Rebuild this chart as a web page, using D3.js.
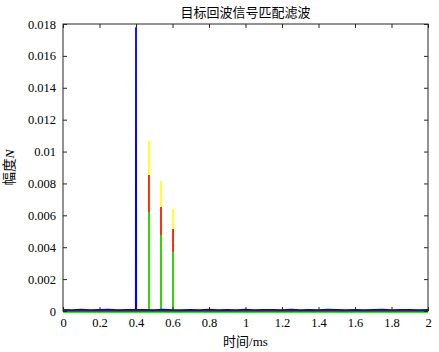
<!DOCTYPE html>
<html>
<head>
<meta charset="utf-8">
<script src="https://cdn.jsdelivr.net/npm/d3@7"></script>
<style>
  body { margin: 0; background: #fff; }
  text { font-family: "Liberation Serif", "Noto Sans CJK SC", serif; }
</style>
</head>
<body>
<div id="app"></div>
<script>
const title = '目标回波信号匹配滤波';
const xLabel = '时间/ms';
const yLabel = '幅度';
const xTicks = [0, 0.2, 0.4, 0.6, 0.8, 1, 1.2, 1.4, 1.6, 1.8, 2];
const yTicks = [0, 0.002, 0.004, 0.006, 0.008, 0.01, 0.012, 0.014, 0.016, 0.018];

// echo pulse times (ms) and peak amplitudes for each filtered series
const pulseTimes = [0.471, 0.537, 0.603];
const yellowPeaks = [0.01066, 0.00815, 0.00642];
const redPeaks = [0.00853, 0.00652, 0.00514];
const greenPeaks = [0.00627, 0.00483, 0.00378];

// blue trace: noise floor plus the direct pulse at 0.4 ms
const blueT = [0, 0.05, 0.1, 0.15, 0.2, 0.25, 0.3, 0.35, 0.399, 0.4, 0.401, 0.45, 0.5, 0.55, 0.6,
  0.65, 0.7, 0.75, 0.8, 0.85, 0.9, 0.95, 1, 1.05, 1.1, 1.15, 1.2, 1.25, 1.3, 1.35, 1.4,
  1.45, 1.5, 1.55, 1.6, 1.65, 1.7, 1.75, 1.8, 1.85, 1.9, 1.95, 2];
const blueV = [0.00007, 0.00005, 0.00008, 0.00006, 0.00007, 0.00009, 0.00006, 0.00007, 0.00008, 0.0178, 0.00008,
  0.00007, 0.00006, 0.00008, 0.00006, 0.00005, 0.00007, 0.00006, 0.00008, 0.00006, 0.00007,
  0.00006, 0.00008, 0.00005, 0.00007, 0.00007, 0.00006, 0.00008, 0.00006, 0.00007, 0.00005,
  0.00008, 0.00007, 0.00006, 0.00007, 0.00006, 0.00007, 0.00008, 0.00006, 0.00007, 0.00007, 0.00006, 0.00007];

const width = 439, height = 352;
const margin = { left: 63, right: 11, top: 24, bottom: 41 };

const svg = d3.select('#app').append('svg')
  .attr('width', width).attr('height', height);

const x = d3.scaleLinear().domain([0, 2]).range([margin.left, width - margin.right]);
const y = d3.scaleLinear().domain([0, 0.018]).range([height - margin.bottom, margin.top]);

const fmt = (d) => String(+d.toFixed(3));

// pulses drawn as vertical strokes from the baseline
function pulseData(peaks) {
  const pts = [[0, 0]];
  pulseTimes.forEach((t, i) => {
    pts.push([t, 0], [t, peaks[i]], [t, 0]);
  });
  pts.push([2, 0]);
  return pts;
}

const line = d3.line().x((d) => x(d[0])).y((d) => y(d[1]));

const plot = svg.append('g');
plot.append('path').datum(pulseData(yellowPeaks))
  .attr('d', line).attr('fill', 'none').attr('stroke', '#ffff00').attr('stroke-width', 1.6);
plot.append('path').datum(pulseData(redPeaks))
  .attr('d', line).attr('fill', 'none').attr('stroke', '#ff0000').attr('stroke-width', 1.6);
plot.append('path').datum(pulseData(greenPeaks).map((d) => [d[0], d[1] - 0.00008]))
  .attr('d', line).attr('fill', 'none').attr('stroke', '#00ff00').attr('stroke-width', 1.6);
plot.append('path').datum(blueT.map((t, i) => [t, blueV[i]]))
  .attr('d', line).attr('fill', 'none').attr('stroke', '#0000ff').attr('stroke-width', 1.8);

// axes on all four sides, ticks pointing inward
const axisColor = '#262626';
const styleAxis = (g) => {
  g.select('.domain').remove();
  g.selectAll('line').attr('stroke', axisColor);
  g.selectAll('text').attr('fill', '#000').attr('font-size', 12.5);
};

svg.append('g').attr('transform', `translate(0,${height - margin.bottom})`)
  .call(d3.axisBottom(x).tickValues(xTicks).tickFormat(fmt).tickSizeInner(-4).tickPadding(7))
  .call(styleAxis);
svg.append('g').attr('transform', `translate(0,${margin.top})`)
  .call(d3.axisTop(x).tickValues(xTicks).tickFormat('').tickSizeInner(-4))
  .call(styleAxis);
svg.append('g').attr('transform', `translate(${margin.left},0)`)
  .call(d3.axisLeft(y).tickValues(yTicks).tickFormat(fmt).tickSizeInner(-4).tickPadding(7))
  .call(styleAxis);
svg.append('g').attr('transform', `translate(${width - margin.right},0)`)
  .call(d3.axisRight(y).tickValues(yTicks).tickFormat('').tickSizeInner(-4))
  .call(styleAxis);

svg.append('rect')
  .attr('x', margin.left).attr('y', margin.top)
  .attr('width', width - margin.left - margin.right)
  .attr('height', height - margin.top - margin.bottom)
  .attr('fill', 'none').attr('stroke', axisColor).attr('stroke-width', 1);

svg.append('text').attr('x', (margin.left + width - margin.right) / 2).attr('y', 17)
  .attr('text-anchor', 'middle').attr('font-size', 13).text(title);

svg.append('text').attr('x', (margin.left + width - margin.right) / 2).attr('y', 346)
  .attr('text-anchor', 'middle').attr('font-size', 13).text(xLabel);

const yl = svg.append('text')
  .attr('transform', `translate(14,${(margin.top + height - margin.bottom) / 2}) rotate(-90)`)
  .attr('text-anchor', 'middle').attr('font-size', 13.5);
yl.append('tspan').text(yLabel);
yl.append('tspan').attr('font-style', 'italic').text('N');
</script>
</body>
</html>
